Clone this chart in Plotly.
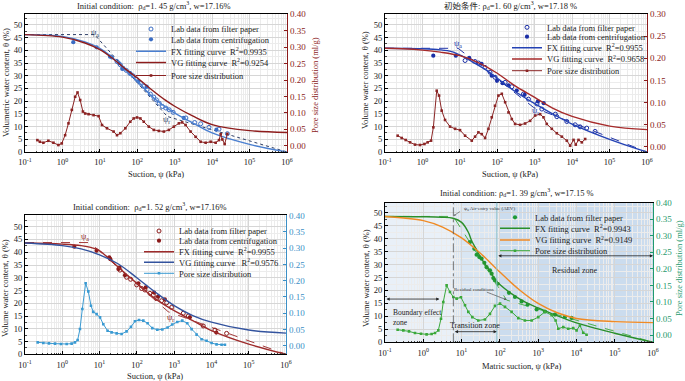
import numpy as np
import plotly.graph_objects as go

W, H = 685, 381
FONT = "Liberation Serif, Noto Sans CJK SC, serif"

# ---------------- shared tick labels / texts ----------------
x_tick_vals = [1e-1, 1e0, 1e1, 1e2, 1e3, 1e4, 1e5, 1e6]
x_tick_text = ["10<sup>-1</sup>", "10<sup>0</sup>", "10<sup>1</sup>", "10<sup>2</sup>",
               "10<sup>3</sup>", "10<sup>4</sup>", "10<sup>5</sup>", "10<sup>6</sup>"]
theta_tick_vals = [0, 5, 10, 15, 20, 25, 30, 35, 40, 45, 50]
psd_tick_vals_040 = [0.00, 0.05, 0.10, 0.15, 0.20, 0.25, 0.30, 0.35, 0.40]
psd_tick_vals_030 = [0.00, 0.05, 0.10, 0.15, 0.20, 0.25, 0.30]

panel_titles = [
    "Initial condition:  ρ<sub>d</sub>=1. 45 g/cm<sup>3</sup>, w=17.16%",
    "初始条件: ρ<sub>d</sub>=1. 60 g/cm<sup>3</sup>, w=17.18 %",
    "Initial condition:  ρ<sub>d</sub>=1. 52 g/cm<sup>3</sup>, w=17.16%",
    "Initial condition: ρ<sub>d</sub>=1. 39 g/cm<sup>3</sup>, w=17.15 %",
]
x_titles = ["Suction, ψ (kPa)", "Suction, ψ (kPa)", "Suction, ψ (kPa)", "Matric suction, ψ (kPa)"]
y_titles = ["Volumetric water content, θ (%)", "Volume water content, θ (%)",
            "Volume water content, θ (%)", "Volume water content, θ (%)"]
y2_titles = ["Pore size distribution (ml/g)", "", "", "Pore size distribution (ml/g)"]

p1_names = ["Lab data from filter paper", "Lab data from centrifugation",
            "FX fitting curve  R<sup>2</sup>=0.9935", "VG fitting curve  R<sup>2</sup>=0.9254",
            "Pore size distribution"]
p2_names = ["Lab data from filter paper", "Lab data from centrifugation",
            "FX fitting curve  R<sup>2</sup>=0.9955", "VG fitting curve  R<sup>2</sup>=0.9658",
            "Pore size distribution"]
p3_names = ["Lab data from filter paper", "Lab data from centrifugation",
            "FX fitting curve  R<sup>2</sup>=0.9955", "VG fitting curve   R<sup>2</sup>=0.9576",
            "Pore size distribution"]
p4_names = ["Lab data from filter paper", "FX fitting curve  R<sup>2</sup>=0.9943",
            "VG fitting curve  R<sup>2</sup>=0.9149", "Pore size distribution"]

# ---------------- panel 1 (rho_d = 1.45) ----------------
p1_filter_x = [28.7, 35.3, 41.5, 51, 62.7, 77, 94.6, 121, 149, 183, 224, 276, 325, 384, 471, 578,
               711, 910, 1990, 3400, 4920, 8220, 15250, 25500]
p1_filter_y = [35.6, 34.3, 33.0, 32.1, 31.0, 30.0, 28.7, 27.1, 25.8, 24.5, 22.8, 21.6, 20.5, 19.2,
               17.9, 17.3, 16.6, 15.6, 13.4, 11.6, 11.1, 9.7, 9.0, 7.2]
p1_centri_x = [1.95, 8.2, 18.7, 21, 32, 39.8, 66, 107, 178, 1740, 13000]
p1_centri_y = [43.2, 41.2, 37.5, 37.2, 35.0, 32.7, 30.8, 27.8, 25.7, 13.4, 8.8]
p1_fx_x = [0.1, 1, 4, 10, 20, 47, 107, 242, 550, 1000, 3000, 1e4, 1e5, 1e6]
p1_fx_y = [46.2, 45.5, 43.3, 40.8, 37.6, 32.5, 27.5, 22.0, 17.8, 15.3, 11.5, 7.5, 3.0, 0.0]
p1_vg_x = [0.1, 1, 4, 10, 20, 47, 107, 242, 550, 1000, 3000, 1e4, 1e5, 1e6]
p1_vg_y = [46.2, 45.2, 42.9, 40.3, 37.3, 32.8, 28.8, 24.5, 20.5, 18.0, 14.2, 10.8, 8.4, 7.7]
p1_tan_x = [0.1, 7.2, 630, 1e6]
p1_tan_y = [46.2, 46.2, 14.0, 0.0]
p1_psd_x = [0.214, 0.25, 0.31, 0.42, 0.575, 0.78, 0.96, 1.18, 1.45, 1.78, 2.19, 2.53, 2.98, 3.52,
            4.06, 4.99, 6.8, 9.25, 11.4, 15.5, 23.3, 28.7, 35.3, 48, 65, 80, 98.6, 121, 149, 203,
            276, 376, 512, 697, 949, 1291, 1585, 1950, 2654, 3614, 4920, 6700, 9120, 12400, 15250,
            16900, 18750, 21600, 25500]
p1_psd_y = [0.017, 0.012, 0.009, 0.015, 0.009, 0.002, 0.007, 0.032, 0.068, 0.109, 0.149, 0.162,
            0.139, 0.104, 0.098, 0.096, 0.093, 0.090, 0.063, 0.053, 0.043, 0.032, 0.038, 0.053,
            0.073, 0.083, 0.086, 0.083, 0.073, 0.058, 0.048, 0.045, 0.043, 0.048, 0.058, 0.068,
            0.071, 0.063, 0.043, 0.027, 0.012, 0.009, 0.012, 0.009, 0.017, 0.035, 0.019, 0.005, 0.036]

# ---------------- panel 2 (rho_d = 1.60) ----------------
p2_filter_x = [13.8, 25.5, 31.6, 47, 64, 87, 162, 245, 500, 680, 1150, 1550, 3550, 3900, 7200,
               12000, 16300, 24500, 41000]
p2_filter_y = [36.0, 35.6, 35.0, 33.3, 31.4, 29.4, 27.4, 25.7, 22.8, 20.8, 18.9, 16.9, 14.9, 13.9,
               12.0, 10.7, 9.9, 9.4, 8.1]
p2_centri_x = [1.95, 7.8, 17.8, 38, 71, 98, 138, 200, 331, 537, 1217, 1740]
p2_centri_y = [37.9, 37.9, 37.0, 34.7, 30.0, 28.0, 27.1, 26.2, 24.2, 22.5, 19.9, 19.2]
p2_fx_x = [0.1, 1, 3, 6, 11, 21, 50, 100, 300, 1000, 3000, 1e4, 1e5, 1e6]
p2_fx_y = [40.8, 40.6, 40.2, 39.5, 37.9, 35.6, 32.3, 29.0, 23.8, 19.0, 15.0, 11.0, 5.0, 0.0]
p2_vg_x = [0.1, 0.3, 1, 3, 10, 30, 100, 300, 1000, 3000, 1e4, 1e5, 1e6]
p2_vg_y = [40.8, 40.6, 40.1, 39.3, 37.9, 35.3, 31.0, 26.0, 21.5, 17.3, 14.0, 10.2, 8.8]
p2_tan_x = [0.1, 9, 940, 1e6]
p2_tan_y = [40.8, 40.8, 17.5, 0.0]
p2_psd_x = [0.218, 0.279, 0.357, 0.466, 0.634, 0.863, 1.13, 1.38, 1.70, 1.96, 2.41, 2.78, 3.27,
            4.02, 5.47, 7.45, 10.1, 13.8, 20.8, 25.5, 31.3, 38.5, 47.2, 58, 71, 87, 107, 132, 162,
            199, 244, 299, 407, 554, 753, 1026, 1395, 1713, 2100, 2860, 3890, 5300, 7200, 8850,
            10900, 12500, 14800, 18100, 22300]
p2_psd_y = [0.0255, 0.0203, 0.0158, 0.0105, 0.0053, 0.0045, 0.0068, 0.0105, 0.0143, 0.0444, 0.127,
            0.116, 0.082, 0.061, 0.046, 0.041, 0.038, 0.0255, 0.0143, 0.0233, 0.033, 0.029, 0.0203,
            0.041, 0.067, 0.093, 0.116, 0.120, 0.101, 0.078, 0.063, 0.052, 0.050, 0.053, 0.059,
            0.071, 0.074, 0.067, 0.052, 0.041, 0.031, 0.0233, 0.0143, 0.003, 0.016, 0.0053, 0.016,
            0.0105, 0.018]

# ---------------- panel 3 (rho_d = 1.52) ----------------
p3_filter_x = [35.2, 53, 68, 99, 134, 165, 224, 276, 339, 461, 628, 855, 1760, 2390, 6040, 12400, 25500]
p3_filter_y = [33.0, 30.2, 29.4, 27.2, 25.8, 25.2, 23.9, 23.2, 21.9, 21.0, 20.2, 18.4, 16.1, 15.0,
               11.1, 9.5, 8.2]
p3_centri_x = [2.1, 8.3, 18.2, 19.5, 32, 34, 48, 110, 173, 290, 370, 565, 2640, 13500]
p3_centri_y = [42.2, 40.6, 38.0, 37.3, 33.4, 34.0, 31.0, 27.8, 26.2, 24.2, 22.6, 21.5, 14.5, 8.5]
p3_fx_x = [0.1, 1, 3.2, 8, 10, 20, 32, 100, 316, 1000, 3160, 1e4, 1e5, 1e6]
p3_fx_y = [43.6, 43.2, 42.6, 41.3, 40.6, 36.9, 34.1, 27.8, 21.7, 17.1, 13.2, 9.3, 4.0, 0.0]
p3_vg_x = [0.1, 1, 3.2, 10, 32, 100, 316, 1000, 3160, 1e4, 1e5, 1e6]
p3_vg_y = [43.6, 42.6, 41.3, 39.0, 35.4, 30.0, 24.3, 19.1, 15.2, 12.6, 9.5, 8.3]
p3_tan_x = [0.1, 5.5, 690, 1e6]
p3_tan_y = [43.8, 43.8, 16.7, 0.0]
p3_psd_x = [0.219, 0.31, 0.44, 0.637, 0.92, 1.31, 1.78, 2.19, 2.58, 2.98, 3.45, 4.23, 4.99, 5.88,
            6.79, 8.34, 10.3, 12.6, 16.4, 21, 28.7, 39, 53, 69.5, 89, 114, 149, 194, 259, 353, 481,
            668, 891, 1213, 1652, 2250, 2940, 4000, 5450, 7410, 10100, 13700, 18700, 23000]
p3_psd_y = [0.0103, 0.0082, 0.0072, 0.0062, 0.0052, 0.0052, 0.0062, 0.0103, 0.0175, 0.0513, 0.113,
            0.192, 0.167, 0.123, 0.104, 0.097, 0.087, 0.066, 0.046, 0.041, 0.038, 0.036, 0.044,
            0.058, 0.075, 0.079, 0.077, 0.069, 0.054, 0.049, 0.050, 0.056, 0.065, 0.073, 0.077,
            0.069, 0.051, 0.034, 0.020, 0.015, 0.0082, 0.0041, 0.0031, 0.0031]

# ---------------- panel 4 (rho_d = 1.39) ----------------
p4_filter_x = [16.6, 21.5, 24.7, 29, 33.4, 39.3, 45.1, 55.1, 61, 67.4, 74.5, 87.5, 173, 248, 370,
               531, 912, 1507, 2750, 5010, 7480]
p4_filter_y = [38.7, 36.1, 33.8, 32.9, 32.3, 30.7, 29.0, 27.8, 26.5, 24.8, 23.9, 22.6, 19.1, 17.5,
               15.8, 14.5, 12.7, 11.9, 10.7, 9.8, 9.4]
p4_fx_x = [0.1, 1, 3, 6, 10, 15, 18, 25, 33, 50, 74, 100, 200, 460, 1000, 2750, 1e4, 1e5, 1e6]
p4_fx_y = [48.6, 48.5, 48.3, 47.9, 46.3, 42.5, 39.5, 35.5, 32.3, 28.4, 24.5, 22.3, 18.8, 15.5,
           13.3, 10.6, 7.5, 3.5, 0.0]
p4_vg_x = [0.1, 1, 3.2, 10, 32, 100, 316, 1000, 3160, 1e4, 1e5, 1e6]
p4_vg_y = [48.6, 47.0, 44.5, 40.3, 34.2, 27.1, 20.4, 15.0, 11.4, 9.2, 8.0, 7.6]
p4_tan_x = [0.1, 6.1, 150, 1e6]
p4_tan_y = [48.6, 48.6, 16.3, 0.0]
p4_psd_x = [0.214, 0.301, 0.424, 0.607, 0.871, 1.22, 1.65, 2.02, 2.47, 2.90, 3.33, 4.07, 4.98,
            6.08, 7.43, 9.64, 12.3, 15, 19.1, 27.3, 40.8, 55.2, 74.5, 101, 136, 203, 303, 452, 675,
            1007, 1507, 2249, 2860, 3357, 4530, 6120, 8260, 10090, 12330, 15060, 18400]
p4_psd_y = [0.016, 0.0141, 0.0111, 0.006, 0.004, 0.002, 0.003, 0.006, 0.0141, 0.049, 0.100, 0.150,
            0.130, 0.115, 0.110, 0.114, 0.090, 0.070, 0.054, 0.044, 0.047, 0.064, 0.088, 0.095,
            0.085, 0.070, 0.051, 0.044, 0.044, 0.054, 0.070, 0.060, 0.044, 0.019, 0.024, 0.019,
            0.021, 0.014, 0.029, 0.007, 0.001]
p4_zone_edges = [0.1, 6.1, 83, 1e6]     # boundary effect / transition / residual zones (kPa)

# ---------------- geometry (pixels) ----------------
boxes = [(25, 287, 14, 152), (385, 647, 14, 152), (25, 286, 215, 354.3), (385, 653, 202.7, 342.3)]
left_ranges = [[0, 54.3], [0, 54.3], [0, 54.6], [0, 53.9]]
right_ranges = [[-0.0192, 0.401], [-0.0113, 0.300], [-0.0265, 0.402], [-0.022, 0.400]]
right_ticks = [psd_tick_vals_040, psd_tick_vals_030, psd_tick_vals_040, psd_tick_vals_040]
right_colors = ["#8b1a1a", "#8b1a1a", "#3b8fc6", "#1f9a6e"]
title_pos = [(154, 6), (510, 6), (150, 206.5), (517, 193)]
xtitle_pos = [(156, 174), (510, 174), (155, 375.5), (522, 366)]
ytitle_pos = [(6, 83), (365, 80), (5, 288), (366, 278)]
y2title_pos = [(315, 85), None, None, (679, 268)]
legend_text_x = [171, 547, 179, 535]
legend_rows = [[29, 39.3, 51.2, 62.5, 75.5], [27.3, 36.7, 47.7, 59, 70.7],
               [231, 240.7, 251.7, 262.3, 273.3], [217.3, 228.3, 240, 250.7]]

fig = go.Figure()
layout = {}
ids = []
for k in range(4):
    L, R, T, B = boxes[k]
    xd = [L / W, R / W]
    yd = [1 - B / H, 1 - T / H]
    xid = "x" if k == 0 else f"x{k + 1}"
    yl = 2 * k + 1
    yr = 2 * k + 2
    ylid = "y" if yl == 1 else f"y{yl}"
    yrid = f"y{yr}"
    ids.append((xid, ylid, yrid))
    layout["xaxis" if k == 0 else f"xaxis{k + 1}"] = dict(
        type="log", domain=xd, anchor=ylid, range=[-1, 6],
        tickmode="array", tickvals=x_tick_vals, ticktext=x_tick_text,
        showline=True, linecolor="black", linewidth=1, mirror=True,
        ticks="inside", ticklen=3, tickcolor="black", ticklabelstandoff=2,
        showgrid=True, gridcolor="#d6d6d6", gridwidth=0.6,
        minor=dict(showgrid=True, gridcolor="#ececec", gridwidth=0.5, dtick="D1",
                   ticks="inside", ticklen=1.5, tickcolor="#444"),
        tickfont=dict(family=FONT, size=8.5, color="#222"),
        zeroline=False,
    )
    layout["yaxis" if yl == 1 else f"yaxis{yl}"] = dict(
        domain=yd, anchor=xid, range=left_ranges[k],
        tickmode="array", tickvals=theta_tick_vals,
        showline=True, linecolor="black", linewidth=1,
        ticks="inside", ticklen=3, tickcolor="black",
        showgrid=True, gridcolor="#d6d6d6", gridwidth=0.6,
        minor=dict(showgrid=True, gridcolor="#ececec", gridwidth=0.5, dtick=2.5,
                   ticks="inside", ticklen=1.5, tickcolor="#444"),
        tickfont=dict(family=FONT, size=8.5, color="#222"),
        zeroline=False,
    )
    rc = right_colors[k]
    layout[f"yaxis{yr}"] = dict(
        overlaying=ylid, side="right", anchor=xid, range=right_ranges[k],
        tickmode="array", tickvals=right_ticks[k], tickformat=".2f",
        showline=True, linecolor=rc, linewidth=1.2,
        ticks="inside", ticklen=3, tickcolor=rc,
        showgrid=False, zeroline=False,
        tickfont=dict(family=FONT, size=9, color=rc),
    )

legend_counter = [0]
legend_layouts = {}


def next_legend(k, row):
    legend_counter[0] += 1
    n = legend_counter[0]
    name = "legend" if n == 1 else f"legend{n}"
    legend_layouts[name] = dict(
        x=(legend_text_x[k] - 40) / W, y=1 - legend_rows[k][row] / H,
        xanchor="left", yanchor="middle", bgcolor="rgba(0,0,0,0)", borderwidth=0,
        font=dict(family=FONT, size=8.5, color="#222"), itemwidth=30,
    )
    return name


def add_panel(k, names, data, colors):
    xid, ylid, yrid = ids[k]
    row = 0
    fx_x, fx_y, vg_x, vg_y, tan_x, tan_y, psd_x, psd_y, lab = data
    fig.add_trace(go.Scatter(x=tan_x, y=tan_y, mode="lines", xaxis=xid, yaxis=ylid,
                             line=dict(color=colors["tan"], width=1, dash=colors["tandash"]),
                             showlegend=False, hoverinfo="skip"))
    for (lx, ly, filled, lname) in lab:
        fig.add_trace(go.Scatter(
            x=lx, y=ly, mode="markers", xaxis=xid, yaxis=ylid, name=lname,
            marker=dict(symbol="circle" if filled else "circle-open", size=4.2 if filled else 4,
                        color=colors["lab"], line=dict(color=colors["lab"], width=1 if not filled else 0)),
            legend=next_legend(k, row)))
        row += 1
    fig.add_trace(go.Scatter(x=fx_x, y=fx_y, mode="lines", xaxis=xid, yaxis=ylid,
                             name=names[row], line=dict(color=colors["fx"], width=1.4, shape="spline", smoothing=1.0),
                             legend=next_legend(k, row)))
    row += 1
    fig.add_trace(go.Scatter(x=vg_x, y=vg_y, mode="lines", xaxis=xid, yaxis=ylid,
                             name=names[row], line=dict(color=colors["vg"], width=1.4, shape="spline", smoothing=1.0),
                             legend=next_legend(k, row)))
    row += 1
    fig.add_trace(go.Scatter(x=psd_x, y=psd_y, mode="lines+markers", xaxis=xid, yaxis=yrid,
                             name=names[row], line=dict(color=colors["psd"], width=1),
                             marker=dict(symbol="square", size=2.6, color=colors["psd"]),
                             legend=next_legend(k, row)))


add_panel(0, p1_names,
          (p1_fx_x, p1_fx_y, p1_vg_x, p1_vg_y, p1_tan_x, p1_tan_y, p1_psd_x, p1_psd_y,
           [(p1_filter_x, p1_filter_y, False, p1_names[0]), (p1_centri_x, p1_centri_y, True, p1_names[1])]),
          dict(tan="#2f3f66", tandash="dot", lab="#3a6cc4", fx="#4a7fd0", vg="#8e1c1c", psd="#8b2222"))
add_panel(1, p2_names,
          (p2_fx_x, p2_fx_y, p2_vg_x, p2_vg_y, p2_tan_x, p2_tan_y, p2_psd_x, p2_psd_y,
           [(p2_filter_x, p2_filter_y, False, p2_names[0]), (p2_centri_x, p2_centri_y, True, p2_names[1])]),
          dict(tan="#2336a8", tandash="dash", lab="#1b2fa6", fx="#2442b4", vg="#a62a2a", psd="#8b2525"))
add_panel(2, p3_names,
          (p3_fx_x, p3_fx_y, p3_vg_x, p3_vg_y, p3_tan_x, p3_tan_y, p3_psd_x, p3_psd_y,
           [(p3_filter_x, p3_filter_y, False, p3_names[0]), (p3_centri_x, p3_centri_y, True, p3_names[1])]),
          dict(tan="#a33a3a", tandash="dash", lab="#8b1a1a", fx="#9e2b2b", vg="#33539e", psd="#3a9ad2"))
add_panel(3, p4_names,
          (p4_fx_x, p4_fx_y, p4_vg_x, p4_vg_y, p4_tan_x, p4_tan_y, p4_psd_x, p4_psd_y,
           [(p4_filter_x, p4_filter_y, True, p4_names[0])]),
          dict(tan="#4cb04c", tandash="dash", lab="#1f9a35", fx="#2a8f2a", vg="#f08a24", psd="#3aa83a"))

# ---------------- annotations ----------------
ann = []
txt_font = dict(family=FONT, size=8.5, color="#222")
for k in range(4):
    cx, cy = title_pos[k]
    ann.append(dict(text=panel_titles[k], x=cx / W, y=1 - cy / H, xref="paper", yref="paper",
                    showarrow=False, xanchor="center", yanchor="middle", font=txt_font))
    cx, cy = xtitle_pos[k]
    ann.append(dict(text=x_titles[k], x=cx / W, y=1 - cy / H, xref="paper", yref="paper",
                    showarrow=False, xanchor="center", yanchor="middle", font=txt_font, borderpad=0))
    cx, cy = ytitle_pos[k]
    ann.append(dict(text=y_titles[k], x=cx / W, y=1 - cy / H, xref="paper", yref="paper",
                    showarrow=False, xanchor="center", yanchor="middle", textangle=-90, font=txt_font))
    if y2title_pos[k] is not None:
        cx, cy = y2title_pos[k]
        ann.append(dict(text=y2_titles[k], x=cx / W, y=1 - cy / H, xref="paper", yref="paper",
                        showarrow=False, xanchor="center", yanchor="middle", textangle=-90,
                        font=dict(family=FONT, size=8.5, color=right_colors[k])))

lbl = [("x", "y", 7.4, 47.2, "ψ<sub>a</sub>", "#2f3f66"), ("x", "y", 620, 12.6, "ψ<sub>r</sub>", "#2f3f66"),
       ("x2", "y3", 9.1, 42.8, "ψ<sub>a</sub>", "#2336a8"), ("x2", "y3", 1020, 16.2, "ψ<sub>r</sub>", "#2336a8"),
       ("x3", "y5", 4.1, 46.0, "ψ<sub>a</sub>", "#8b1a1a"), ("x3", "y5", 780, 14.6, "ψ<sub>r</sub>", "#8b1a1a")]
for xr, yr_, xv, yv, t, c in lbl:
    ann.append(dict(text=t, x=np.log10(xv), y=yv, xref=xr, yref=yr_, showarrow=False,
                    font=dict(family=FONT, size=8.5, color=c)))

# panel 4 zone arrows and notes
z0, z1, z2, z3 = [np.log10(v) for v in p4_zone_edges]
arrow_common = dict(xref="x4", yref="y7", axref="x4", ayref="y7", text="", showarrow=True,
                    arrowhead=2, startarrowhead=2, arrowsize=0.8, arrowwidth=0.8,
                    arrowcolor="#222", arrowside="end+start")
ann.append(dict(x=z3, y=33.4, ax=z2, ay=33.4, **arrow_common))
ann.append(dict(x=0.42, y=16.7, ax=z0, ay=16.7, **arrow_common))
ann.append(dict(x=z2, y=4.1, ax=z1, ay=4.1, **arrow_common))
ann.append(dict(text="Residual zone", x=3.96, y=27.9, xref="x4", yref="y7", showarrow=False,
                font=dict(family=FONT, size=8, color="#222")))
ann.append(dict(text="Boundary effect<br>zone", x=-0.84, y=9.4, xref="x4", yref="y7", showarrow=False,
                xanchor="left", align="left", font=dict(family=FONT, size=7.5, color="#222")))
ann.append(dict(text="Transition zone", x=(z1 + z2) / 2, y=6.6, xref="x4", yref="y7", showarrow=False,
                font=dict(family=FONT, size=8, color="#222")))
ann.append(dict(text="ψ<sub>a</sub> Air-entry value (AEV)", x=1.02, y=51.4, xref="x4", yref="y7",
                showarrow=False, xanchor="left", font=dict(family=FONT, size=5, color="#333")))
ann.append(dict(x=np.log10(6.3), y=48.9, ax=1.0, ay=50.9, xref="x4", yref="y7", axref="x4", ayref="y7",
                text="", showarrow=True, arrowhead=2, arrowsize=0.6, arrowwidth=0.6, arrowcolor="#555"))
ann.append(dict(text="Residual conditions", x=0.74, y=20.3, xref="x4", yref="y7", showarrow=False,
                xanchor="left", font=dict(family=FONT, size=5, color="#333")))
ann.append(dict(x=np.log10(150), y=16.4, ax=1.62, ay=19.6, xref="x4", yref="y7", axref="x4", ayref="y7",
                text="", showarrow=True, arrowhead=2, arrowsize=0.7, arrowwidth=0.7, arrowcolor="#555"))

# ---------------- panel 4 shading and zone lines ----------------
shade = ["#e9f0f8", "#d9e6f3", "#cbdcee"]
shapes = []
for i in range(3):
    shapes.append(dict(type="rect", xref="x4", yref="y7 domain", x0=p4_zone_edges[i], x1=p4_zone_edges[i + 1],
                       y0=0, y1=1, fillcolor=shade[i], line=dict(width=0), layer="below"))
shapes.append(dict(type="line", xref="x4", yref="y7 domain", x0=p4_zone_edges[1], x1=p4_zone_edges[1],
                   y0=0, y1=1, line=dict(color="#555", width=0.8, dash="dashdot")))
shapes.append(dict(type="line", xref="x4", yref="y7 domain", x0=p4_zone_edges[2], x1=p4_zone_edges[2],
                   y0=0, y1=1, line=dict(color="#8fc3cc", width=1)))

fig.update_layout(
    width=W, height=H, margin=dict(l=0, r=0, t=0, b=0),
    paper_bgcolor="white", plot_bgcolor="white", template="none",
    font=dict(family=FONT, size=8.5, color="#222"),
    annotations=ann, shapes=shapes, **layout, **legend_layouts,
)

fig.write_html("out.html", config={"displayModeBar": False},
               post_script="document.body.style.margin='0';document.body.style.overflow='hidden';")
